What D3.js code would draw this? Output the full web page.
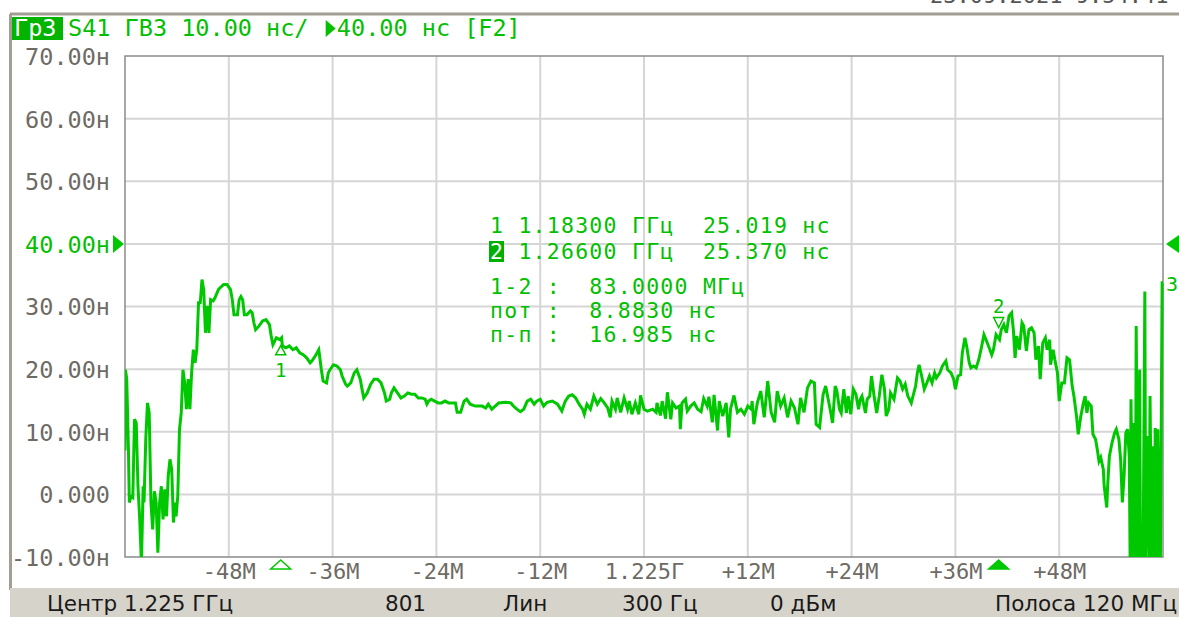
<!DOCTYPE html>
<html><head><meta charset="utf-8">
<script src="https://cdn.jsdelivr.net/npm/d3@7"></script>
<style>
html,body{margin:0;padding:0;background:#fff;overflow:hidden}
svg{display:block}
</style></head>
<body>
<svg id="c" width="1179" height="617"></svg>
<script>
// ---------- DATA ----------
const centerGHz = 1.225;
const spanMHz = 120;
const freqMHz = [
-60.0,-59.95,-59.8,-59.6,-59.5,-59.3,-59.1,-58.9,-58.7,-58.5,-58.3,-58.1,-57.9,-57.8,-57.6,-57.4,-57.2,-57.0,-56.8,-56.6,-56.4,-56.2,-56.0,-55.8,-55.6,-55.4,-55.2,-55.0,-54.8,-54.6,-54.4,-54.2,-54.1,-53.9,-53.7,-53.5,-53.3,-53.1,-52.9,-52.7,-52.5,-52.3,-52.1,-51.9,-51.7,-51.5,-51.3,-51.1,-50.9,-50.7,-50.5,-50.3,-50.1,-49.8,-49.6,-49.2,-49.0,-48.6,-48.2,-47.8,-47.6,-47.4,-47.0,-46.8,-46.6,-46.4,-46.2,-45.9,-45.5,-45.3,-45.1,-44.9,-44.5,-44.1,-43.7,-43.3,-43.1,-42.9,-42.5,-42.1,-41.9,-41.8,-41.4,-41.0,-40.6,-40.2,-39.8,-39.4,-39.0,-38.6,-38.4,-38.0,-37.6,-37.5,-37.3,-37.1,-36.7,-36.5,-36.3,-35.9,-35.5,-35.1,-34.9,-34.5,-34.3,-33.9,-33.5,-33.2,-32.8,-32.6,-32.4,-32.0,-31.6,-31.2,-30.8,-30.4,-30.0,-29.8,-29.4,-29.2,-28.9,-28.5,-28.1,-27.7,-27.3,-26.9,-26.5,-26.1,-25.7,-25.3,-25.1,-24.9,-24.6,-24.2,-23.8,-23.4,-23.0,-22.6,-22.2,
-21.8,-21.6,-21.2,-20.8,-20.5,-20.1,-19.5,-18.7,-18.3,-18.0,-17.6,-17.2,-16.8,-16.0,-15.4,-15.1,-14.7,-14.3,-13.9,-13.5,-13.1,-12.7,-12.4,-12.0,-11.6,-11.2,-10.6,-10.0,-9.5,-9.1,-8.7,-8.3,-7.9,-7.5,-7.1,-6.9,-6.6,-6.2,-5.8,-5.4,-5.0,-4.6,-4.2,-3.9,-3.7,-3.3,-3.1,-2.7,-2.3,-1.9,-1.7,-1.4,-1.0,-0.6,-0.4,0.0,0.4,1.0,1.4,1.5,1.9,2.1,2.5,2.7,3.1,3.3,3.7,4.1,4.2,4.4,4.8,5.0,5.4,5.8,6.2,6.6,6.9,7.3,7.5,7.9,8.1,8.5,8.7,9.1,9.5,9.8,10.0,10.4,10.8,11.2,11.6,12.0,12.4,12.5,12.7,13.1,13.5,13.9,14.3,14.7,15.1,15.4,15.8,16.2,16.6,17.0,17.4,17.8,18.1,18.5,18.9,19.3,19.7,19.9,20.3,20.7,21.0,
21.6,21.8,22.1,22.3,22.6,22.8,23.1,23.4,23.6,23.9,24.2,24.5,24.8,25.0,25.2,25.6,25.8,26.1,26.3,26.6,26.9,27.2,27.5,27.8,28.0,28.3,28.5,28.9,29.3,29.6,29.9,30.2,30.5,30.9,31.1,31.4,31.6,31.8,32.1,32.4,32.7,33.0,33.3,33.6,33.8,34.2,34.5,34.9,35.1,35.5,35.8,36.0,36.3,36.6,36.8,37.1,37.3,37.6,37.8,38.1,38.4,38.7,39.0,39.3,39.6,39.9,40.2,40.4,40.7,41.1,41.3,41.6,41.9,42.2,42.5,42.7,42.9,43.1,43.4,43.7,43.9,44.2,44.5,44.8,45.1,45.3,45.6,45.8,46.1,46.4,46.6,46.9,47.0,47.3,47.5,47.8,48.0,48.3,48.6,48.9,49.2,49.5,49.7,50.0,50.2,50.5,50.8,51.0,51.2,51.4,51.7,51.9,52.2,52.4,52.6,52.8,53.1,53.2,53.5,53.6,53.8,54.1,54.4,54.6,54.9,55.1,55.3,55.5,55.7,55.9,56.1,56.2,56.3,56.5,56.6,56.8,56.9,57.1,57.3,57.4,57.6,57.7,57.9,58.0,58.2,58.4,58.5,58.7,58.8,59.0,59.1,59.3,59.4,59.6,59.7,59.9,60.0
];
const gdNs = [
7.0,19.9,18.4,7.0,-1.3,-0.3,-0.5,12.0,11.4,1.3,-4.0,-11,1.3,-1.3,8.8,14.6,13.0,-1.3,-5.6,0.5,-1.3,-9.3,-1.3,1.3,-4.0,0.8,-3.5,3.0,5.6,4.0,-4.5,-1.3,-3.5,-0.3,10.4,13.0,19.9,17.8,13.6,18.4,13.6,19.4,23.1,21.0,23.1,30.6,30.6,34.3,32.7,25.8,30.1,25.8,31.1,30.9,31.4,32.7,33.0,33.5,33.5,32.7,31.1,28.7,28.7,31.1,31.6,31.1,28.7,28.7,29.3,29.0,27.4,26.3,26.9,27.7,27.9,27.1,25.3,23.9,25.0,24.7,25.0,23.7,23.4,23.7,23.1,23.4,22.6,22.3,21.8,21.0,21.3,22.1,23.1,22.1,19.9,18.1,17.8,19.4,19.9,20.7,20.5,19.9,18.9,17.6,17.3,17.8,19.4,19.9,18.4,16.8,15.4,16.2,17.6,18.4,18.4,17.8,16.2,14.9,15.2,16.2,17.0,16.2,15.4,15.7,16.2,16.0,16.0,15.4,15.4,15.2,14.4,14.9,15.2,14.9,14.6,14.6,14.9,14.6,14.6,
14.6,13.1,13.1,14.9,15.2,14.4,14.1,14.1,13.8,14.4,13.6,14.1,14.6,14.7,14.6,14.1,13.6,13.2,13.6,14.9,15.2,14.4,14.9,15.2,14.1,14.7,14.9,14.4,13.3,14.9,15.7,15.9,15.4,14.4,13.6,12.8,14.4,13.6,15.7,14.4,15.3,14.6,13.8,12.3,14.9,13.6,15.4,13.1,15.4,13.6,14.9,12.8,14.6,12.8,15.8,13.6,13.3,13.6,13.1,14.6,12.6,14.9,12.1,16.3,12.0,14.6,13.8,14.1,10.4,14.6,15.2,13.3,14.1,14.6,13.6,13.2,15.3,14.1,15.6,11.5,15.9,10.2,14.9,12.5,14.6,9.1,13.6,15.8,13.1,13.6,12.8,14.1,13.6,14.9,11.2,14.6,16.5,12.3,18.1,13.1,11.5,16.5,14.1,15.4,12.3,14.9,13.8,11.2,15.4,13.1,17.0,18.1,17.8,11.2,10.7,15.9,17.3,
13.0,11.4,17.3,16.5,13.6,13.0,16.8,13.0,15.7,12.8,16.8,16.0,13.6,15.2,15.7,13.0,15.2,15.7,18.9,15.7,13.0,15.7,19.1,16.8,12.5,13.6,16.2,15.2,18.6,18.1,16.8,17.6,15.7,14.6,15.7,17.3,19.4,20.7,18.9,16.8,17.8,18.9,17.8,19.4,18.6,19.4,20.5,21.3,19.9,19.4,18.4,16.8,18.9,19.1,22.6,25.0,23.7,21.0,20.2,20.5,20.2,21.5,23.4,25.5,24.5,23.4,22.3,23.1,25.5,24.7,26.3,27.1,25.8,28.5,29.0,26.3,21.8,25.3,23.1,27.4,26.9,22.9,26.3,26.6,25.8,21.5,23.7,18.4,24.2,25.0,23.1,24.7,20.7,23.1,21.5,19.4,14.9,17.8,17.8,21.8,21.5,17.3,15.7,12.5,9.6,12.5,14.6,15.7,13.0,14.6,14.1,9.6,8.8,7.2,5.3,5.9,4.0,1.3,-2.1,1.3,6.1,8.2,9.8,10.4,8.8,5.6,-1.3,2.9,9.8,10.4,6.1,-11,15.2,-11,11.4,-11,26.9,-11,19.9,-11,-5.6,-11,32.4,-11,9.3,-11,15.7,-11,7.7,-11,10.6,-11,10.4,-11,-11,33.8,33.8
];
const yTickValues = [70,60,50,40,30,20,10,0,-10];
const yTickLabels = ["70.00н","60.00н","50.00н","40.00н","30.00н","20.00н","10.00н","0.000","-10.00н"];
const xTickValues = [-48,-36,-24,-12,0,12,24,36,48];
const xTickLabels = ["-48М","-36М","-24М","-12М","1.225Г","+12М","+24М","+36М","+48М"];
const refLevelNs = 40;
const markerIds = ["1","2"];
const markerFreqMHz = [-42, 41];
const markerNs = [25.019, 25.370];
const readoutLines = [
  "1 1.18300 ГГц  25.019 нс",
  "2 1.26600 ГГц  25.370 нс",
  "1-2 :  83.0000 МГц",
  "пот :  8.8830 нс",
  "п-п :  16.985 нс"
];
const headerTag = "Гр3";
const headerText1 = "S41 ГВЗ 10.00 нс/ ";
const headerText2 = "40.00 нс [F2]";
const statusTexts = ["Центр 1.225 ГГц","801","Лин","300 Гц","0 дБм","Полоса 120 МГц"];

// ---------- LAYOUT ----------
const L = 125, R = 1163, T = 56, B = 557;
const GREEN = "#00c800", TXTGREEN = "#00c000", GRAY = "#6e6a64";
const MONO = "'DejaVu Sans Mono', monospace";
const svg = d3.select("#c");
const x = d3.scaleLinear().domain([-spanMHz/2, spanMHz/2]).range([L, R]);
const y = d3.scaleLinear().domain([-10, 70]).range([B, T]);

// window frame (timestamp clipped at the top edge, as in the reference)
svg.append("text").attr("x", 930).attr("y", 3).attr("font-family", MONO).attr("font-size", 22)
  .attr("fill", "#555").text("23.09.2021 9:54:41");
svg.append("line").attr("x1", 10).attr("x2", 1179).attr("y1", 14).attr("y2", 14).attr("stroke", "#a29e94").attr("stroke-width", 3);
svg.append("line").attr("x1", 10.5).attr("x2", 10.5).attr("y1", 14).attr("y2", 590).attr("stroke", "#a29e94").attr("stroke-width", 3);

// grid
const grid = svg.append("g");
grid.selectAll("line.v").data(xTickValues).join("line")
  .attr("x1", d => x(d)).attr("x2", d => x(d)).attr("y1", T).attr("y2", B)
  .attr("stroke", "#d6d6d6").attr("stroke-width", 2);
grid.selectAll("line.h").data(yTickValues.filter(v => v < 70 && v > -10)).join("line")
  .attr("x1", L).attr("x2", R).attr("y1", d => y(d)).attr("y2", d => y(d))
  .attr("stroke", "#d6d6d6").attr("stroke-width", 2);
svg.append("rect").attr("x", L).attr("y", T).attr("width", R - L).attr("height", B - T)
  .attr("fill", "none").attr("stroke", "#8a8a8a").attr("stroke-width", 1.5);

// y labels
const yAxis = d3.axisLeft(y).tickValues(yTickValues).tickSize(0).tickPadding(0)
  .tickFormat((d, i) => yTickLabels[i]);
const gy = svg.append("g").attr("transform", `translate(${L - 15},0)`).call(yAxis);
gy.select(".domain").remove();
gy.selectAll("text").attr("font-family", MONO).attr("font-size", 23.5)
  .attr("fill", d => d === refLevelNs ? TXTGREEN : GRAY).attr("dy", "0.36em");

// x labels
const xAxis = d3.axisBottom(x).tickValues(xTickValues).tickSize(0).tickPadding(0)
  .tickFormat((d, i) => xTickLabels[i]);
const gx = svg.append("g").attr("transform", `translate(0,${B + 1})`).call(xAxis);
gx.select(".domain").remove();
gx.selectAll("text").attr("font-family", MONO).attr("font-size", 22).attr("fill", GRAY).attr("dy", "0.95em");

// reference triangles
const yr = y(refLevelNs);
svg.append("path").attr("d", `M113,${yr-9}L124,${yr}L113,${yr+9}Z`).attr("fill", GREEN);
svg.append("path").attr("d", `M1179,${yr-9}L1166,${yr}L1179,${yr+9}Z`).attr("fill", GREEN);

// trace
svg.append("clipPath").attr("id", "clip").append("rect").attr("x", L).attr("y", T).attr("width", R - L + 1).attr("height", B - T);
const pts = freqMHz.map((f, i) => [f, gdNs[i]]);
svg.append("path").datum(pts).attr("clip-path", "url(#clip)")
  .attr("d", d3.line().x(d => x(d[0])).y(d => y(d[1])))
  .attr("fill", "none").attr("stroke", GREEN).attr("stroke-width", 3).attr("stroke-linejoin", "miter");

// "3" label at right end
svg.append("text").attr("x", R + 3).attr("y", y(gdNs[gdNs.length - 1]) + 8).attr("font-family", MONO)
  .attr("font-size", 20).attr("fill", TXTGREEN).text("3");

// markers on trace
markerIds.forEach((id, i) => {
  const mx = x(markerFreqMHz[i]), my = y(markerNs[i]);
  if (i === 0) {
    svg.append("path").attr("d", `M${mx},${my+8}L${mx+5},${my+17}L${mx-5},${my+17}Z`)
      .attr("fill", "#fff").attr("stroke", TXTGREEN).attr("stroke-width", 1.5);
    svg.append("text").attr("x", mx).attr("y", my + 39).attr("text-anchor", "middle")
      .attr("font-family", MONO).attr("font-size", 19).attr("fill", TXTGREEN).text(id);
  } else {
    svg.append("path").attr("d", `M${mx-5},${my-18}L${mx+5},${my-18}L${mx},${my-8}Z`)
      .attr("fill", "#fff").attr("stroke", TXTGREEN).attr("stroke-width", 1.5);
    svg.append("text").attr("x", mx).attr("y", my - 22).attr("text-anchor", "middle")
      .attr("font-family", MONO).attr("font-size", 19).attr("fill", TXTGREEN).text(id);
  }
  const by = B + 3;
  svg.append("path").attr("d", `M${mx},${by}L${mx+10},${by+9}L${mx-10},${by+9}Z`)
    .attr("fill", i === 1 ? GREEN : "#fff").attr("stroke", GREEN).attr("stroke-width", 1.5);
});

// readout
const rd = svg.append("g");
const baseY = [233, 259, 294, 318, 342];
const RFS = 21.5, RLS = 1.25, CW = 14.19;
readoutLines.forEach((t, i) => {
  if (i === 1) {
    rd.append("rect").attr("x", 489).attr("y", baseY[i] - 18).attr("width", 15).attr("height", 21).attr("fill", "#00b000");
    rd.append("text").attr("x", 490).attr("y", baseY[i]).attr("font-family", MONO).attr("font-size", RFS)
      .attr("letter-spacing", RLS).attr("fill", "#fff").text(t.slice(0, 1));
    rd.append("text").attr("x", 490 + CW).attr("y", baseY[i]).attr("font-family", MONO).attr("font-size", RFS)
      .attr("letter-spacing", RLS).attr("fill", TXTGREEN).style("white-space", "pre").text(t.slice(1));
  } else {
    rd.append("text").attr("x", 490).attr("y", baseY[i]).attr("font-family", MONO).attr("font-size", RFS)
      .attr("letter-spacing", RLS).attr("fill", TXTGREEN).style("white-space", "pre").text(t);
  }
});

// header
svg.append("rect").attr("x", 12).attr("y", 17).attr("width", 51).attr("height", 23).attr("fill", "#00b400");
svg.append("text").attr("x", 14).attr("y", 36).attr("font-family", MONO).attr("font-size", 23.5)
  .attr("fill", "#fff").text(headerTag);
svg.append("text").attr("x", 68).attr("y", 36).attr("font-family", MONO).attr("font-size", 23.5)
  .attr("fill", TXTGREEN).style("white-space", "pre").text(headerText1);
const ax = 68 + 18 * 14.15 + 3;
svg.append("path").attr("d", `M${ax},20L${ax + 10},28.5L${ax},37Z`).attr("fill", TXTGREEN);
svg.append("text").attr("x", 68 + 19 * 14.15).attr("y", 36).attr("font-family", MONO).attr("font-size", 23.5)
  .attr("fill", TXTGREEN).style("white-space", "pre").text(headerText2);

// status bar
svg.append("rect").attr("x", 10).attr("y", 588).attr("width", 1169).attr("height", 29).attr("fill", "#d6d3ca");
const statusX = [47, 385, 503, 622, 770, 995];
statusTexts.forEach((t, i) => {
  svg.append("text").attr("x", statusX[i]).attr("y", 611).attr("font-family", "'DejaVu Sans', sans-serif")
    .attr("font-size", 21.5).attr("fill", "#1a1a1a").text(t);
});
</script>
</body></html>
